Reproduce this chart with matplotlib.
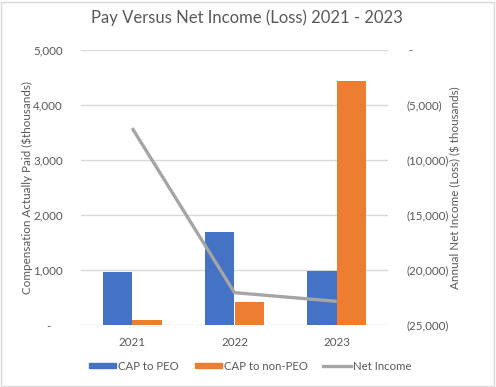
import matplotlib
matplotlib.use("Agg")
import matplotlib.pyplot as plt
import numpy as np
from matplotlib.patches import Rectangle, Patch
from matplotlib.lines import Line2D

years = ["2021", "2022", "2023"]
cap_peo = [960, 1690, 990]
cap_non_peo = [100, 410, 4430]
net_income = [-7100, -22060, -22850]

left_ticks = [0, 1000, 2000, 3000, 4000, 5000]
left_labels = ["-    ", "1,000", "2,000", "3,000", "4,000", "5,000"]
right_ticks = [0, -5000, -10000, -15000, -20000, -25000]
right_labels = [" -", "(5,000)", "(10,000)", "(15,000)", "(20,000)", "(25,000)"]

FONT = ["Lato", "DejaVu Sans"]
plt.rcParams['font.family'] = FONT
TXT = "#595959"
BLUE = "#4472C4"
ORANGE = "#ED7D31"
GRAY = "#A5A5A5"
GRID = "#D9D9D9"
FS = 8.4

W, H = 496, 387
fig = plt.figure(figsize=(W/100, H/100), dpi=100)
fig.patches.append(Rectangle((1/W, 1/H), 493/W, 384/H, transform=fig.transFigure,
                             fill=False, edgecolor="#D9D9D9", linewidth=1))

ax = fig.add_axes([81/W, (H-325)/H, (388-81)/W, (325-50)/H])
x = np.arange(len(years))
bw = 0.2875
ax.bar(x - bw/2, cap_peo, bw, color=BLUE, zorder=2)
ax.bar(x + bw/2, cap_non_peo, bw, color=ORANGE, zorder=2)
ax.set_xlim(-0.5, 2.5)
ax.set_ylim(0, 5000)
ax.set_yticks(left_ticks)
ax.set_yticklabels(left_labels)
ax.grid(axis="y", color=GRID, linewidth=1, zorder=0)
ax.set_xticks(x)
ax.set_xticklabels(years)
for s in ax.spines.values():
    s.set_visible(False)
ax.tick_params(length=0, colors=TXT, labelsize=FS)
ax.tick_params(axis="y", pad=13)
ax.tick_params(axis="x", pad=9)
ax.set_ylabel("Compensation Actually Paid ($thousands)", color=TXT, fontsize=FS)
ax.yaxis.set_label_coords((33 - 81) / 307, 0.5)

ax2 = ax.twinx()
ax2.plot(x, net_income, color=GRAY, linewidth=2.4, solid_capstyle="butt", zorder=3)
ax2.set_ylim(-25000, 0)
ax2.set_yticks(right_ticks)
ax2.set_yticklabels(right_labels)
for s in ax2.spines.values():
    s.set_visible(False)
ax2.tick_params(length=0, colors=TXT, labelsize=FS, pad=13)
ax2.set_ylabel("Annual Net Income (Loss) ($ thousands)", color=TXT, fontsize=FS)
ax2.yaxis.set_label_coords((450 - 81) / 307, 0.5)

fig.text(247/W, (H-18)/H, "Pay Versus Net Income (Loss) 2021 - 2023", ha="center", va="center",
         color=TXT, fontsize=12)

handles = [Patch(color=BLUE), Patch(color=ORANGE), Line2D([0], [0], color=GRAY, linewidth=2.4)]
fig.legend(handles, ["CAP to PEO", "CAP to non-PEO", "Net Income"], loc="center",
           bbox_to_anchor=(250/W, (H-366)/H), ncol=3, frameon=False, fontsize=8.2,
           handlelength=2.4, handleheight=0.4, handletextpad=0.15, columnspacing=1.4,
           labelcolor=TXT)

fig.savefig("out.png", dpi=100)
